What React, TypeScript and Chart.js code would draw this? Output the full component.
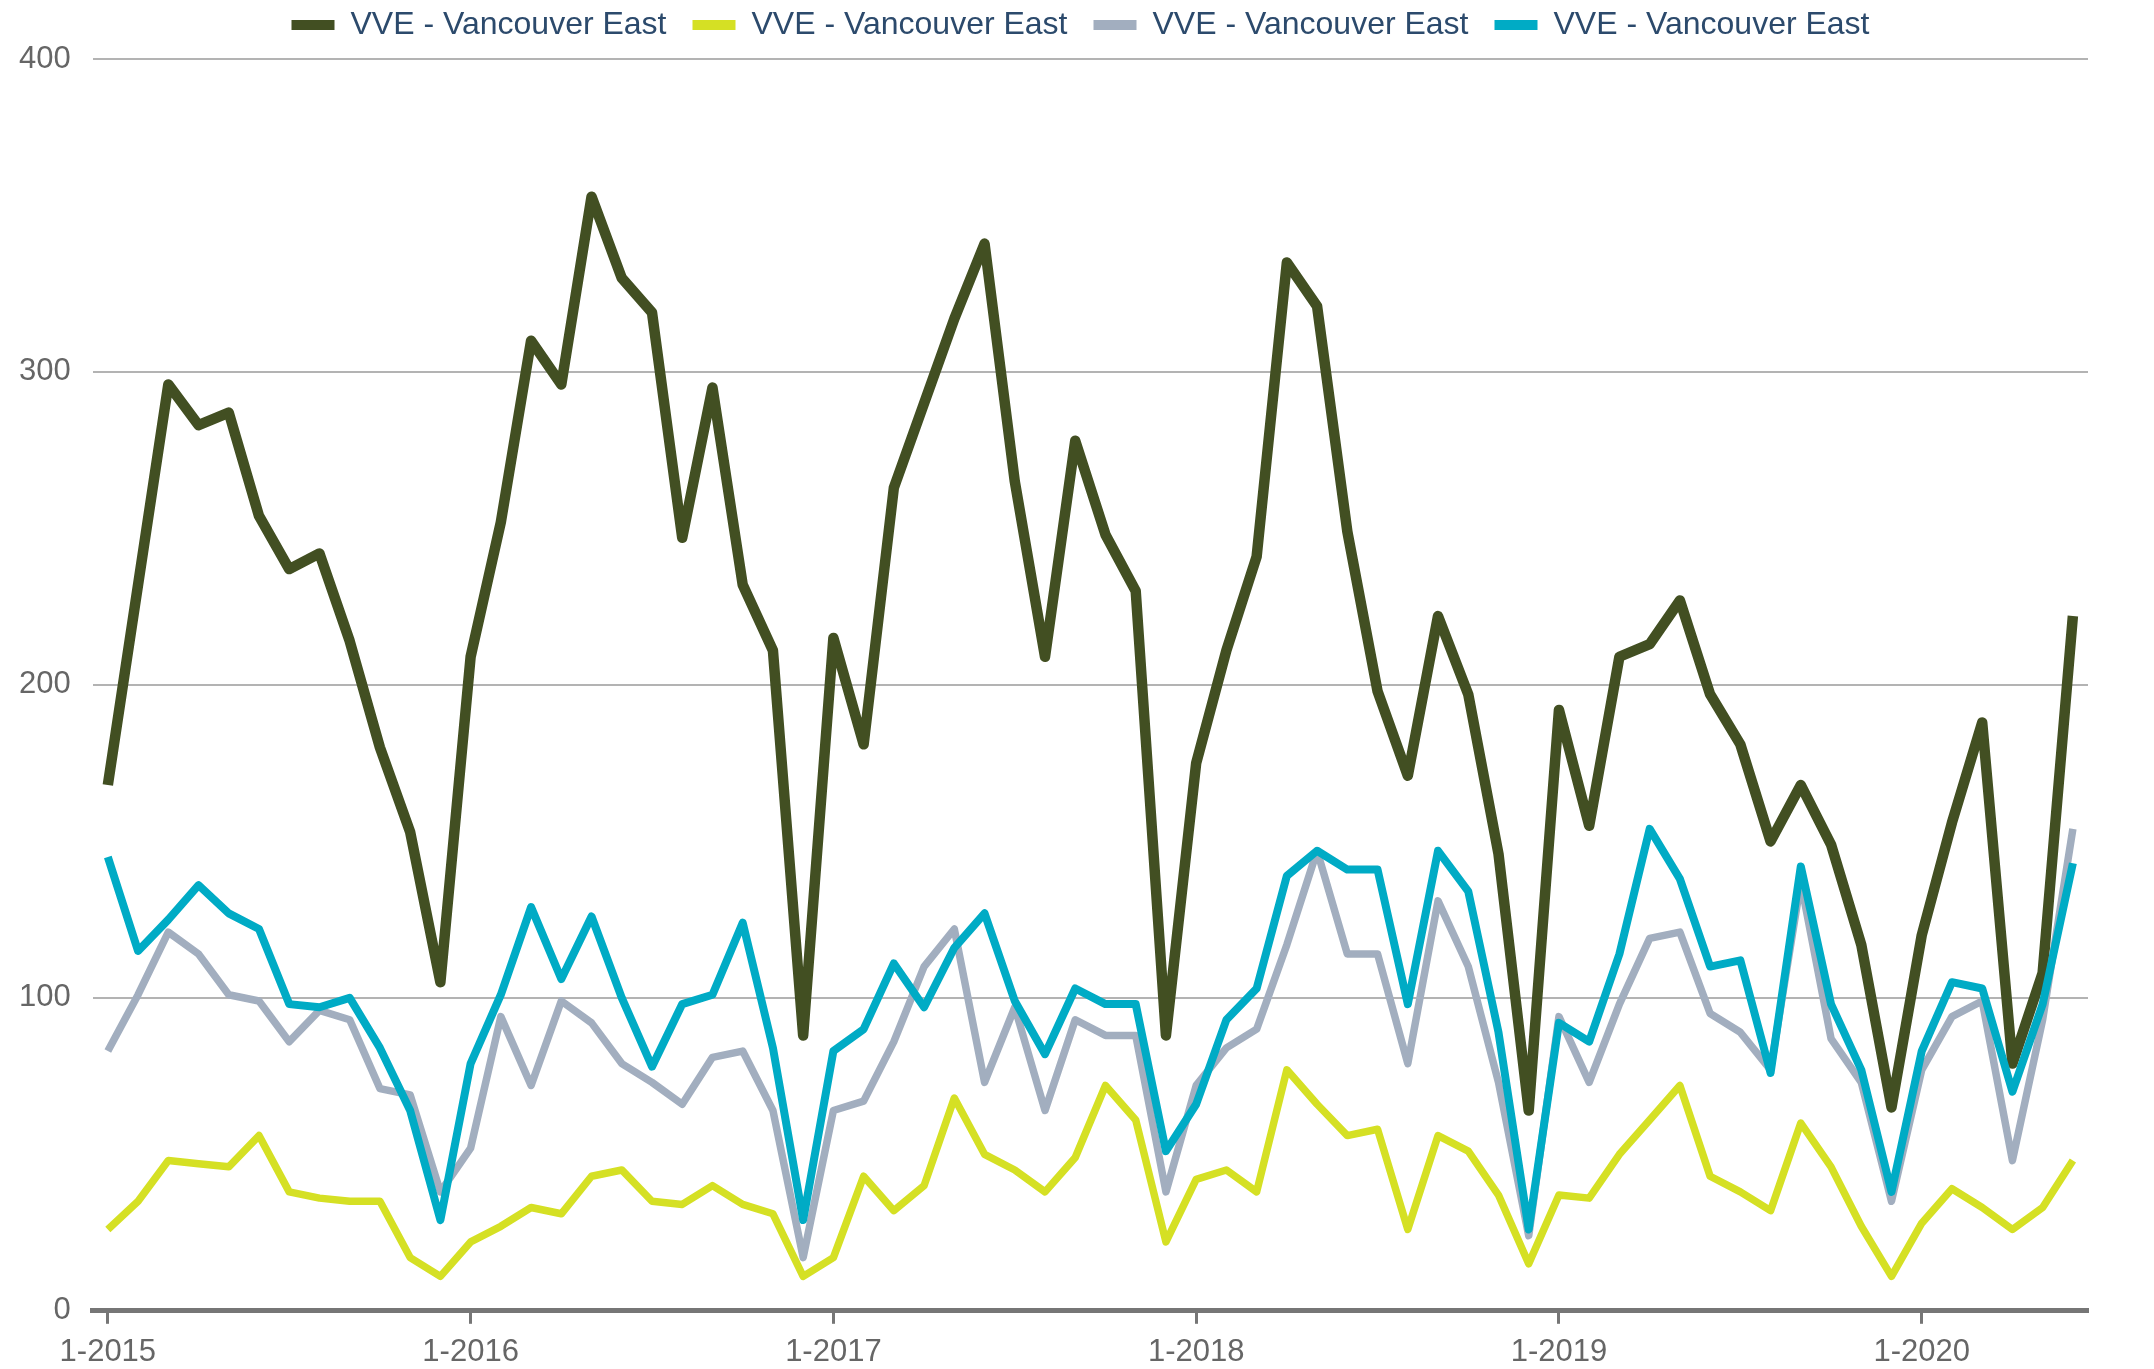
import React, { useEffect, useRef } from 'react';
import { Chart, registerables } from 'chart.js';

Chart.register(...registerables);

// Categories: monthly, Jan 2015 .. Jun 2020
const years = [2015, 2016, 2017, 2018, 2019, 2020];
const monthNumbers = [1, 2, 3, 4, 5, 6, 7, 8, 9, 10, 11, 12];
const months: string[] = [];
years.forEach((y) => monthNumbers.forEach((m) => { if (months.length < 66) months.push(`${m}-${y}`); }));

const seriesNames = ['VVE - Vancouver East', 'VVE - Vancouver East', 'VVE - Vancouver East', 'VVE - Vancouver East'];
const seriesColors = ['#424f22', '#d5e024', '#a2aebf', '#00abc5'];
const seriesWidths = [10.5, 7.5, 7.5, 8];

const darkValues = [168, 232, 296, 283, 287, 254, 237, 242, 214, 180, 153, 105,
  209, 252, 310, 296, 356, 330, 319, 247, 295, 232, 211, 88,
  215, 181, 263, 290, 317, 341, 265, 209, 278, 248, 230, 88,
  175, 211, 241, 335, 321, 249, 198, 171, 222, 197, 146, 64,
  192, 155, 209, 213, 227, 197, 181, 150, 168, 149, 117, 65,
  120, 156, 188, 79, 108, 222];

const yellowValues = [26, 35, 48, 47, 46, 56, 38, 36, 35, 35, 17, 11,
  22, 27, 33, 31, 43, 45, 35, 34, 40, 34, 31, 11,
  17, 43, 32, 40, 68, 50, 45, 38, 49, 72, 61, 22,
  42, 45, 38, 77, 66, 56, 58, 26, 56, 51, 37, 15,
  37, 36, 50, 61, 72, 43, 38, 32, 60, 46, 27, 11,
  28, 39, 33, 26, 33, 48];

const grayValues = [83, 101, 121, 114, 101, 99, 86, 96, 93, 71, 69, 38,
  52, 94, 72, 99, 92, 79, 73, 66, 81, 83, 64, 17,
  64, 67, 86, 110, 122, 73, 97, 64, 93, 88, 88, 38,
  72, 84, 90, 117, 147, 114, 114, 79, 131, 110, 73, 24,
  94, 73, 98, 119, 121, 95, 89, 77, 137, 87, 73, 35,
  77, 94, 99, 48, 93, 154];

const cyanValues = [145, 115, 125, 136, 127, 122, 98, 97, 100, 84, 64, 29,
  79, 101, 129, 106, 126, 100, 78, 98, 101, 124, 84, 29,
  83, 90, 111, 97, 116, 127, 99, 82, 103, 98, 98, 51,
  66, 93, 103, 139, 147, 141, 141, 98, 147, 134, 89, 26,
  92, 86, 114, 154, 138, 110, 112, 76, 142, 98, 77, 38,
  83, 105, 103, 70, 98, 143];

const seriesValues = [darkValues, yellowValues, grayValues, cyanValues];

const yTicks = [0, 100, 200, 300, 400];

const LEGEND_EXTRA = 8;
const LEGEND_SHIFT = 38;

const legendTweak = {
  id: 'legendTweak',
  beforeInit(chart: any) {
    const lg = chart.legend;
    if (!lg) return;
    const origFit = lg.fit;
    lg.fit = function () {
      origFit.call(this);
      this.height += LEGEND_EXTRA;
    };
  },
  afterLayout(chart: any) {
    const lg = chart.legend;
    if (!lg) return;
    lg.left += LEGEND_SHIFT;
    lg.right += LEGEND_SHIFT;
  },
};

export default function App() {
  const canvasRef = useRef<HTMLCanvasElement | null>(null);

  useEffect(() => {
    if (!canvasRef.current) return;
    const chart = new Chart(canvasRef.current, {
      type: 'line',
      data: {
        labels: months,
        datasets: seriesValues.map((vals, i) => ({
          label: seriesNames[i],
          data: vals,
          borderColor: seriesColors[i],
          backgroundColor: seriesColors[i],
          borderWidth: seriesWidths[i],
          pointRadius: 0,
          pointHoverRadius: 0,
          tension: 0,
          fill: false,
          borderJoinStyle: 'round' as const,
          order: 4 - i,
        })),
      },
      options: {
        animation: false,
        responsive: false,
        devicePixelRatio: 1,
        layout: { padding: { left: -3, right: 66, top: -17, bottom: -12 } },
        plugins: {
          tooltip: { enabled: false },
          legend: {
            display: true,
            position: 'top',
            align: 'center',
            labels: {
              boxWidth: 43,
              boxHeight: 10,
              padding: 26,
              color: '#2c4a6c',
              font: { family: '"Liberation Sans", Arial, sans-serif', size: 32 },
              sort: (a: any, b: any) => a.datasetIndex - b.datasetIndex,
              generateLabels: (c: any) =>
                (Chart.defaults.plugins.legend.labels.generateLabels as any)(c).map((l: any) => ({
                  ...l,
                  lineWidth: 0,
                  fillStyle: seriesColors[l.datasetIndex],
                })),
            },
          },
        },
        scales: {
          x: {
            type: 'category',
            offset: true,
            border: { display: true, color: '#767676', width: 5 },
            grid: {
              display: true,
              drawOnChartArea: false,
              drawTicks: true,
              tickLength: 13,
              tickWidth: 3,
              tickColor: (ctx: any) => (ctx.index % 12 === 0 ? '#767676' : 'rgba(0,0,0,0)'),
            },
            ticks: {
              autoSkip: false,
              maxRotation: 0,
              minRotation: 0,
              padding: 10,
              color: '#666666',
              font: { family: '"Liberation Sans", Arial, sans-serif', size: 31 },
              callback: function (this: any, value: any, index: number) {
                return index % 12 === 0 ? months[index] : '';
              },
            },
          },
          y: {
            min: yTicks[0],
            max: yTicks[yTicks.length - 1],
            border: { display: false },
            grid: { color: '#b3b3b3', lineWidth: 2, drawTicks: false },
            afterBuildTicks: (scale: any) => {
              scale.ticks = yTicks.map((v) => ({ value: v }));
            },
            ticks: {
              padding: 22,
              color: '#666666',
              font: { family: '"Liberation Sans", Arial, sans-serif', size: 31 },
            },
          },
        },
      },
      plugins: [legendTweak],
    } as any);
    return () => chart.destroy();
  }, []);

  return (
    <div style={{ position: 'fixed', left: 0, top: 0, width: 2154, height: 1369, background: '#fff' }}>
      <canvas ref={canvasRef} width={2154} height={1369} style={{ display: 'block' }} />
    </div>
  );
}
